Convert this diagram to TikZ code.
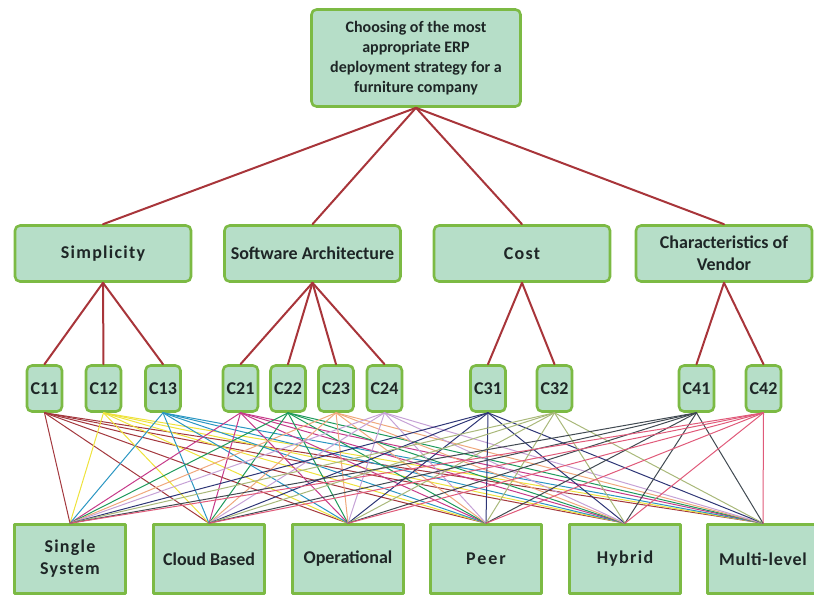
\documentclass[tikz,border=0pt]{standalone}
\usepackage{fontspec}
\setmainfont{Carlito}
\definecolor{boxfill}{HTML}{B6DEC8}
\definecolor{boxedge}{HTML}{7CBA44}
\definecolor{labeltext}{HTML}{1E2626}
\definecolor{tiered}{HTML}{A8353A}
\definecolor{colA}{HTML}{A3383E}
\definecolor{colB}{HTML}{EEE23C}
\definecolor{colC}{HTML}{2A96C2}
\definecolor{colD}{HTML}{C63A8A}
\definecolor{colE}{HTML}{1E9A5C}
\definecolor{colF}{HTML}{EFA87C}
\definecolor{colG}{HTML}{C6A2D6}
\definecolor{colH}{HTML}{2E3676}
\definecolor{colI}{HTML}{A9B87A}
\definecolor{colJ}{HTML}{414A52}
\definecolor{colK}{HTML}{E05A7A}
\newcommand{\spaced}[1]{{\addfontfeature{LetterSpace=7}#1}}
\begin{document}
\begin{tikzpicture}[x=1pt,y=-1pt,line join=round,line cap=round,
	box/.style={draw=boxedge,fill=boxfill,line width=2.6pt,rounded corners=5pt,text=labeltext,align=center,inner sep=0pt,font=\bfseries\fontsize{18}{22}\selectfont},
	crit/.style={box,minimum width=176pt,minimum height=56pt},
	sub/.style={box,minimum width=35pt,minimum height=46pt},
	alt/.style={box,rounded corners=0pt,minimum width=111pt,minimum height=69pt},
	tie/.style={draw=tiered,line width=2pt},
	web/.style={line width=1pt}]
	\useasboundingbox (0,0) rectangle (814,597);
	% goal
	\node[box,minimum width=209pt,minimum height=97pt,font=\bfseries\fontsize{16}{20}\selectfont] (goal) at (416,58) {Choosing of the most\\appropriate ERP\\deployment strategy for a\\furniture company};
	% criteria
	\node[crit] (simp) at (103,253.5) {\spaced{Simplicity}};
	\node[crit] (arch) at (312.5,253.5) {Software Architecture};
	\node[crit] (cost) at (522,253.5) {\spaced{Cost}};
	\node[crit] (vendor) at (724,253.5) {Characteristics of\\Vendor};
	% sub-criteria
	\foreach \n/\x in {11/44.5,12/103.5,13/163,21/240.5,22/288,23/336,24/384.5,31/488,32/554.5,41/696.5,42/763.5}
		\node[sub] (c\n) at (\x,388.5) {C\n};
	% alternatives
	\node[alt] (single) at (70,559) {\spaced{Single}\\\spaced{System}};
	\node[alt] (cloud) at (209,559) {Cloud Based};
	\node[alt] (operational) at (348,559) {Operational};
	\node[alt] (peer) at (486,559) {{\addfontfeature{LetterSpace=11}Peer}};
	\node[alt] (hybrid) at (625,559) {\spaced{Hybrid}};
	\node[alt] (multilevel) at (763,559) {{\addfontfeature{LetterSpace=4}Multi-level}};
	% hierarchy
	\foreach \k in {simp,arch,cost,vendor}
		\draw[tie] (goal.south) -- (\k.north);
	\foreach \k/\p in {c11/simp,c12/simp,c13/simp,c21/arch,c22/arch,c23/arch,c24/arch,c31/cost,c32/cost,c41/vendor,c42/vendor}
		\draw[tie] (\p.south) -- (\k.north);
	% every sub-criterion to every alternative
	\foreach \k/\col in {c11/colA,c12/colB,c13/colC,c21/colD,c22/colE,c23/colF,c24/colG,c31/colH,c32/colI,c41/colJ,c42/colK}
		\foreach \a in {single,cloud,operational,peer,hybrid,multilevel}
			\draw[web,\col] (\k.south) -- (\a.north);
\end{tikzpicture}
\end{document}
